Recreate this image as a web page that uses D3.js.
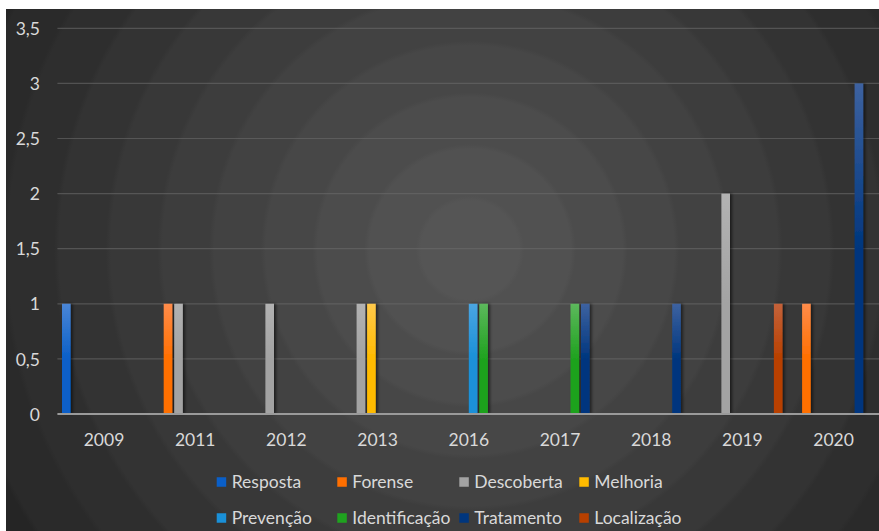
<!DOCTYPE html>
<html>
<head>
<meta charset="utf-8">
<script src="https://cdn.jsdelivr.net/npm/d3@7"></script>
<style>
  html, body { margin: 0; padding: 0; background: #ffffff; }
  svg { display: block; }
  text { font-family: Lato, "Open Sans", sans-serif; fill: #d9d9d9; }
</style>
</head>
<body>
<svg id="chart" width="879" height="531"></svg>
<script>
// ---- data ----
const categories = ["2009", "2011", "2012", "2013", "2016", "2017", "2018", "2019", "2020"];
const seriesNames = ["Resposta", "Forense", "Descoberta", "Melhoria", "Prevenção", "Identificação", "Tratamento", "Localização"];
const resposta      = [1, 0, 0, 0, 0, 0, 0, 0, 0];
const forense       = [0, 1, 0, 0, 0, 0, 0, 0, 1];
const descoberta    = [0, 1, 1, 1, 0, 0, 0, 2, 0];
const melhoria      = [0, 0, 0, 1, 0, 0, 0, 0, 0];
const prevencao     = [0, 0, 0, 0, 1, 0, 0, 0, 0];
const identificacao = [0, 0, 0, 0, 1, 1, 0, 0, 0];
const tratamento    = [0, 0, 0, 0, 0, 1, 1, 0, 3];
const localizacao   = [0, 0, 0, 0, 0, 0, 0, 1, 0];
const yTicks = [0, 0.5, 1, 1.5, 2, 2.5, 3, 3.5];

const seriesValues = [resposta, forense, descoberta, melhoria, prevencao, identificacao, tratamento, localizacao];
const colorsBottom = ["#0a5fc8", "#ff6f00", "#a3a3a3", "#ffbb00", "#1a90d8", "#1fa21f", "#00367e", "#b84000"];
const colorsTop    = ["#4a86d6", "#ff8c4a", "#b2b2b2", "#ffc94a", "#4aa5e2", "#5cb85c", "#3d62a0", "#c4623a"];

const svg = d3.select("#chart");
const W = 879, H = 531;
const defs = svg.append("defs");

// background radial gradient with soft banding
const bg = defs.append("radialGradient").attr("id", "bg")
  .attr("gradientUnits", "userSpaceOnUse")
  .attr("cx", 470).attr("cy", 250).attr("r", 620);
const bands = ["#555555", "#515151", "#4c4c4c", "#474747", "#424242", "#3d3d3d", "#383838", "#333333", "#2e2e2e", "#2a2a2a", "#252525", "#212121"];
bands.forEach((c, i) => {
  bg.append("stop").attr("offset", (i / bands.length) + 0.004).attr("stop-color", c);
  bg.append("stop").attr("offset", ((i + 1) / bands.length) - 0.004).attr("stop-color", c);
});

svg.append("rect").attr("x", 6).attr("y", 9).attr("width", W - 6).attr("height", H - 9)
  .attr("fill", "url(#bg)");

// bar gradients
seriesNames.forEach((s, i) => {
  const g = defs.append("linearGradient").attr("id", "g" + i)
    .attr("x1", 0).attr("y1", 0).attr("x2", 0).attr("y2", 1);
  g.append("stop").attr("offset", 0).attr("stop-color", colorsTop[i]);
  g.append("stop").attr("offset", 0.5).attr("stop-color", colorsBottom[i]);
  g.append("stop").attr("offset", 1).attr("stop-color", colorsBottom[i]);
});

const shadow = defs.append("filter").attr("id", "shadow")
  .attr("x", "-50%").attr("y", "-5%").attr("width", "250%").attr("height", "110%");
shadow.append("feDropShadow").attr("dx", 2).attr("dy", 0).attr("stdDeviation", 1.5)
  .attr("flood-color", "#000").attr("flood-opacity", 0.55);

// scales
const plotLeft = 58.4, plotRight = 879.2, yTop = 28.3, yBottom = 414;
const x0 = d3.scaleBand().domain(categories).range([plotLeft, plotRight]).padding(0);
const x1 = d3.scaleBand().domain(seriesNames).range([3.6, 85.7]).paddingInner(0.18).paddingOuter(0);
const y = d3.scaleLinear().domain([0, 3.5]).range([yBottom, yTop]);

// gridlines
svg.append("g").selectAll("line").data(yTicks.filter(t => t > 0)).join("line")
  .attr("x1", plotLeft - 1).attr("x2", plotRight)
  .attr("y1", d => y(d)).attr("y2", d => y(d))
  .attr("stroke", "#6a6a6a").attr("stroke-opacity", 0.6).attr("stroke-width", 1.2);

// y axis labels
const yAxis = d3.axisLeft(y).tickValues(yTicks).tickSize(0).tickPadding(0)
  .tickFormat(d => String(d).replace(".", ","));
const yg = svg.append("g").attr("transform", `translate(40,0)`).call(yAxis);
yg.select(".domain").remove();
yg.selectAll("text").attr("font-size", 17.5).attr("fill", "#d9d9d9")
  .style("font-family", "Lato, sans-serif").attr("dy", "0.35em").attr("x", 0);

// bars
const groups = svg.append("g").selectAll("g").data(categories).join("g")
  .attr("transform", d => `translate(${x0(d)},0)`);
groups.selectAll("rect")
  .data((c, ci) => seriesNames.map((s, si) => ({ s, si, v: seriesValues[si][ci] })).filter(d => d.v > 0))
  .join("rect")
  .attr("x", d => x1(d.s))
  .attr("width", x1.bandwidth())
  .attr("y", d => y(d.v))
  .attr("height", d => y(0) - y(d.v))
  .attr("fill", d => `url(#g${d.si})`)
  .attr("filter", "url(#shadow)");

// baseline axis
svg.append("line").attr("x1", plotLeft - 1).attr("x2", plotRight)
  .attr("y1", y(0)).attr("y2", y(0))
  .attr("stroke", "#9a9a9a").attr("stroke-width", 1.8);

// x axis labels
const xAxis = d3.axisBottom(x0).tickSize(0).tickPadding(0);
const xg = svg.append("g").attr("transform", `translate(0,${y(0)})`).call(xAxis);
xg.select(".domain").remove();
xg.selectAll("text").attr("font-size", 17.5).attr("fill", "#d9d9d9")
  .style("font-family", "Lato, sans-serif").attr("y", 32).attr("dy", 0);

// legend
const legendCols = [216.7, 337.3, 459.3, 579.3];
const legendRows = [482, 518];
const legend = svg.append("g");
seriesNames.forEach((s, i) => {
  const cx = legendCols[i % 4], cy = legendRows[Math.floor(i / 4)];
  const g = legend.append("g");
  g.append("rect").attr("x", cx).attr("y", cy - 4.75).attr("width", 9.5).attr("height", 9.5)
    .attr("fill", colorsBottom[i]);
  g.append("text").attr("x", cx + 15).attr("y", cy).attr("dy", "0.36em")
    .attr("font-size", 17.5).text(s);
});
</script>
</body>
</html>
